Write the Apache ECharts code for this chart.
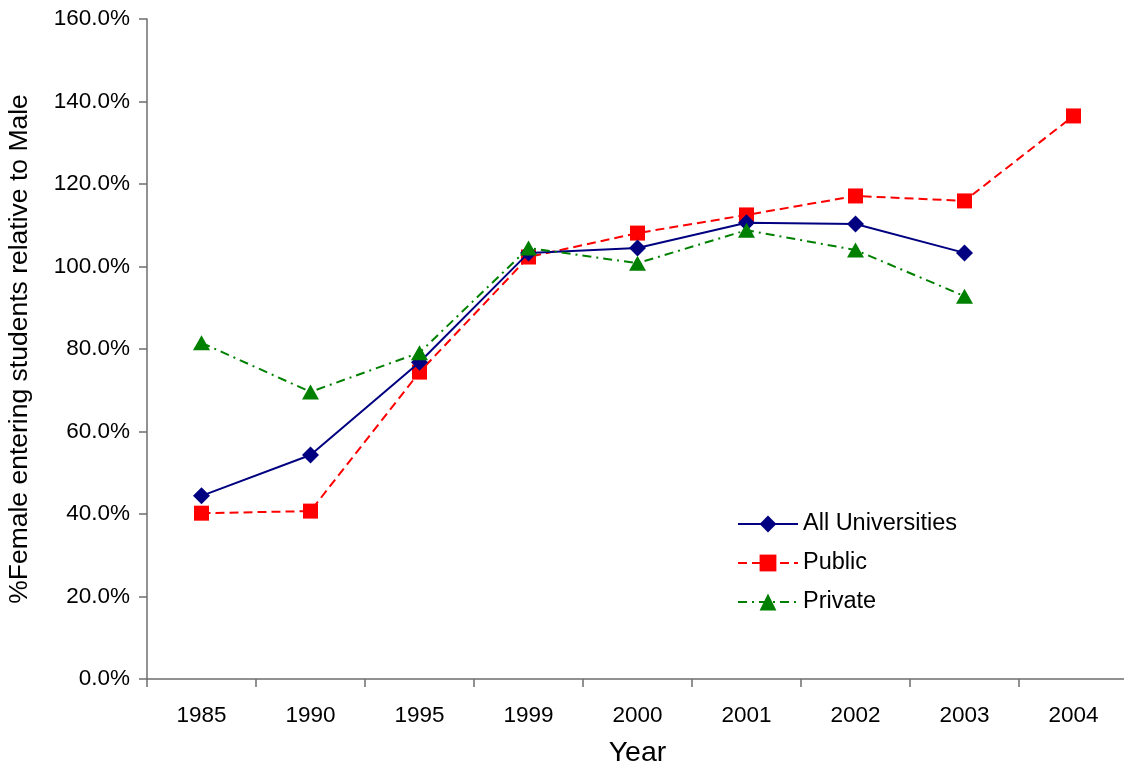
<!DOCTYPE html>
<html><head><meta charset="utf-8">
<script src="https://cdn.jsdelivr.net/npm/echarts@6/dist/echarts.min.js"></script>
<style>html,body{margin:0;padding:0;background:#fff}#c{width:1124px;height:770px}</style>
</head><body><div id="c"></div>
<script>
const categories = ['1985','1990','1995','1999','2000','2001','2002','2003','2004'];
const allUniversities = [44.4, 54.3, 76.8, 103.3, 104.5, 110.6, 110.3, 103.3, null];
const publicUni = [40.2, 40.7, 74.4, 102.3, 108.1, 112.5, 117.1, 115.9, 136.5];
const privateUni = [81.5, 69.6, 79.1, 104.5, 100.8, 108.8, 104.0, 92.8, null];
const yTicks = [0, 20, 40, 60, 80, 100, 120, 140, 160];

const font = 'Liberation Sans, Arial, sans-serif';
const chart = echarts.init(document.getElementById('c'));
chart.setOption({
  animation: false,
  backgroundColor: '#fff',
  grid: {left: 147, top: 19, width: 981, height: 660, containLabel: false, outerBoundsMode: 'none'},
  legend: {
    left: 732, top: 507, orient: 'vertical', itemGap: 15, itemWidth: 60, itemHeight: 21,
    textStyle: {fontFamily: font, fontSize: 23.5, color: '#000', padding: [0,0,0,0]},
    data: ['All Universities', 'Public', 'Private']
  },
  xAxis: {
    type: 'category', data: categories, boundaryGap: true,
    name: 'Year', nameLocation: 'middle', nameGap: 60,
    nameTextStyle: {fontFamily: font, fontSize: 28.5, color: '#000'},
    axisLine: {lineStyle: {color: '#6e6e6e', width: 1.5}},
    axisTick: {show: true, length: 8, lineStyle: {color: '#6e6e6e', width: 1.5}},
    axisLabel: {fontFamily: font, fontSize: 22.5, color: '#000', margin: 25},
    splitLine: {show: false}
  },
  yAxis: {
    type: 'value', min: yTicks[0], max: yTicks[yTicks.length-1], interval: 20,
    name: '%Female entering students relative to Male', nameLocation: 'middle', nameGap: 114,
    nameTextStyle: {fontFamily: font, fontSize: 26.5, color: '#000'},
    axisLine: {show: true, lineStyle: {color: '#6e6e6e', width: 1.5}},
    axisTick: {show: true, length: 8, lineStyle: {color: '#6e6e6e', width: 1.5}},
    axisLabel: {fontFamily: font, fontSize: 22.5, color: '#000', margin: 17,
      formatter: v => v.toFixed(1) + '%'},
    splitLine: {show: false}
  },
  series: [
    {name: 'All Universities', type: 'line', data: allUniversities, connectNulls: false,
     symbol: 'diamond', symbolSize: 17, itemStyle: {color: '#000080'},
     lineStyle: {color: '#000080', width: 2, type: 'solid'}, z: 3},
    {name: 'Public', type: 'line', data: publicUni,
     symbol: 'rect', symbolSize: 15, itemStyle: {color: '#ff0000'},
     lineStyle: {color: '#ff0000', width: 2, type: [9, 5]}, z: 2},
    {name: 'Private', type: 'line', data: privateUni,
     symbol: 'triangle', symbolSize: [17, 15], itemStyle: {color: '#008000'},
     lineStyle: {color: '#008000', width: 2, type: [9, 5, 2, 5]}, z: 4}
  ]
});
</script></body></html>
